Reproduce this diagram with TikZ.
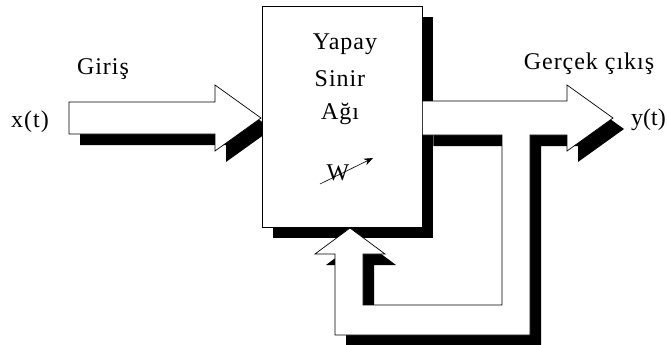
\documentclass[tikz,border=0pt]{standalone}
\usepackage{fontspec}
\setmainfont{Liberation Serif}
\newfontfamily\lblfont[LetterSpace=4]{Liberation Serif}
\usepackage{tikz}
\usetikzlibrary{shadows, arrows.meta, positioning}

\begin{document}
\begin{tikzpicture}[
    x=1pt, y={(0pt,-1pt)},
    font=\lblfont\fontsize{24}{28}\selectfont,
    fat/.style={draw=black, line width=0.7pt, fill=white,
        drop shadow={shadow xshift=11pt, shadow yshift=-11pt, fill=black, opacity=1}},
    box/.style={rectangle, fat, minimum width=160pt, minimum height=221pt, inner sep=0pt},
    lbl/.style={anchor=base, inner sep=0pt},
    warrow/.style={-{Stealth[length=9pt, width=7pt]}, line width=0.6pt}
]
    \useasboundingbox (0,0) rectangle (667,345);

    % Input
    \path[fat] (69,102) -- (215,102) -- (215,85) -- (261,118) -- (215,151) -- (215,134) -- (69,134) -- cycle;
    \node[lbl] (giris) at (103,75) {Giriş};
    \node[lbl] (xt) at (30,128) {x(t)};

    % Network
    \node[box] (ysa) at (342,116.5) {};
    \node[lbl] (yapay) at (345,50) {Yapay};
    \node[lbl] (sinir) at (340,87) {Sinir};
    \node[lbl] (agi) at (340,120) {Ağı};
    \node[lbl] (w) at (338,180) {W};
    \coordinate (wa) at (320,184);
    \coordinate (wb) at (373,158);
    \draw[warrow] (wa) -- (wb);

    % Output and feedback
    \path[fat] (ysa.east |- 0,101) -- (567,101) -- (567,85) -- (613,118) -- (567,151) -- (567,135)
        -- (530,135) -- (530,335) -- (335,335) -- (335,254) -- (315,254) -- (350,228)
        -- (385,254) -- (363,254) -- (363,305) -- (502,305) -- (502,135) -- (ysa.east |- 0,135) -- cycle;
    \node[lbl] (cikis) at (589,70) {Gerçek çıkış};
    \node[lbl, anchor=base east, font=\fontsize{24}{28}\selectfont] (yt) at (666,125) {y(t)};

\end{tikzpicture}
\end{document}
